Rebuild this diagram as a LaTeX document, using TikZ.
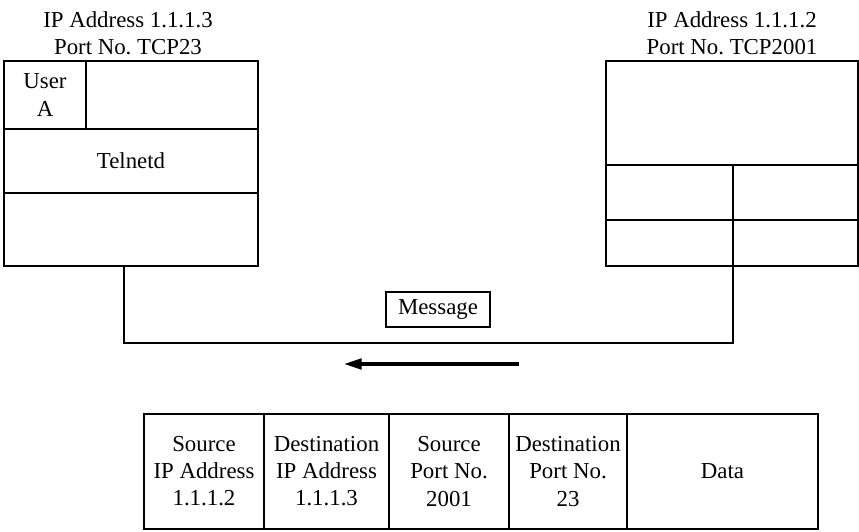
\documentclass[tikz,border=0pt]{standalone}
\usepackage{fontspec}
\setmainfont{Liberation Serif}
\usepackage{tikz}
\usetikzlibrary{arrows.meta, positioning, calc}
\frenchspacing
\tikzset{
  cell/.style={draw=black, line width=1.3pt},
  field/.style={rectangle, draw=black, line width=1.3pt, align=center,
    minimum height=2.3cm, inner sep=0pt},
  txt/.style={align=center, inner sep=0pt},
  wire/.style={line width=1.3pt, color=black},
  flow/.style={-{Triangle[length=10pt, width=6pt]}, line width=1.8pt, color=black}
}

\begin{document}
\begin{tikzpicture}[font=\fontsize{13}{15.4}\selectfont]
  \useasboundingbox (0,0) rectangle (17.18,10.62);

  % Host A (left)
  \node[txt] (ipA) at (2.56,9.96) {IP Address 1.1.1.3\\Port No. TCP23};
  \draw[cell] (0.08,5.30) rectangle (5.16,9.40);
  \draw[cell] (0.08,8.04) -- (5.16,8.04);
  \draw[cell] (0.08,6.76) -- (5.16,6.76);
  \draw[cell] (1.72,8.04) -- (1.72,9.40);
  \node[txt] (userA) at (0.90,8.72) {User\\A};
  \node[txt] (telnetd) at (2.62,7.40) {Telnetd};
  \coordinate (footA) at (2.48,5.30);

  % Host B (right)
  \node[txt] (ipB) at (14.64,9.96) {IP Address 1.1.1.2\\Port No. TCP2001};
  \draw[cell] (12.12,5.30) rectangle (17.16,9.40);
  \draw[cell] (12.12,7.32) -- (17.16,7.32);
  \draw[cell] (12.12,6.22) -- (17.16,6.22);
  \draw[cell] (14.66,5.30) -- (14.66,7.32);
  \coordinate (footB) at (14.66,5.30);

  % link between the hosts
  \draw[wire] (footA) -- (footA |- 0,3.76) -| (footB);
  \node[rectangle, draw=black, line width=1.3pt, minimum width=2.08cm,
    minimum height=0.70cm, inner sep=0pt] (msg) at (8.76,4.43) {Message};

  % direction of the message
  \coordinate (flowS) at (10.38,3.34);
  \coordinate (flowE) at (6.88,3.34);
  \draw[flow] (flowS) -- (flowE);

  % header fields
  \node[field, minimum width=2.40cm] (srcip) at (4.08,1.19) {Source\\IP Address\\1.1.1.2};
  \node[field, minimum width=2.50cm] (dstip) at (6.53,1.19) {Destination\\IP Address\\1.1.1.3};
  \node[field, minimum width=2.40cm] (srcport) at (8.98,1.19) {Source\\Port No.\\2001};
  \node[field, minimum width=2.36cm] (dstport) at (11.36,1.19) {Destination\\Port No.\\23};
  \node[field, minimum width=3.82cm] (data) at (14.45,1.19) {Data};
\end{tikzpicture}
\end{document}
